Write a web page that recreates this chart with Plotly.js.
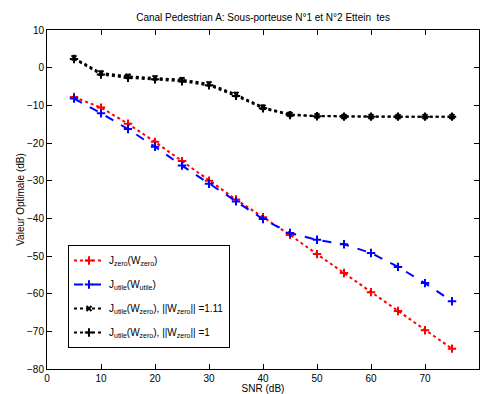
<!DOCTYPE html>
<html>
<head>
<meta charset="utf-8">
<script src="https://cdn.plot.ly/plotly-3.0.1.min.js"></script>
<style>html,body{margin:0;padding:0;background:#fff;}#chart{width:480px;height:394px;}</style>
</head>
<body>
<div id="chart"></div>
<script>
const snr = [5,10,15,20,25,30,35,40,45,50,55,60,65,70,75];
const jZero = [-7.8,-10.6,-14.9,-19.7,-24.8,-30.0,-35.0,-39.7,-44.4,-49.5,-54.5,-59.6,-64.6,-69.7,-74.6];
const jUtile = [-8.2,-12.1,-16.3,-21.0,-26.0,-30.8,-35.5,-40.2,-43.9,-45.7,-46.9,-49.2,-52.9,-57.2,-62.0];
const jUtileZero111 = [2.6,-1.4,-2.3,-2.7,-3.2,-4.3,-7.1,-10.5,-12.4,-12.8,-13.0,-13.0,-13.0,-13.0,-13.0];
const jUtileZero1 = [2.3,-1.8,-2.7,-3.1,-3.6,-4.7,-7.5,-10.8,-12.6,-12.9,-13.0,-13.0,-13.0,-13.0,-13.0];
const names = [
  'J<sub>zero</sub>(W<sub>zero</sub>)',
  'J<sub>utile</sub>(W<sub>utile</sub>)',
  'J<sub>utile</sub>(W<sub>zero</sub>), ||W<sub>zero</sub>|| =1.11',
  'J<sub>utile</sub>(W<sub>zero</sub>), ||W<sub>zero</sub>|| =1'
];
const titleText = 'Canal Pedestrian A: Sous-porteuse N°1 et N°2 Ettein  tes';

const traces = [
  {x: snr, y: jZero, name: names[0], legendgroup: 'a', mode: 'lines+markers',
   line: {color: '#ff0000', dash: 'dot', width: 2},
   marker: {symbol: 'cross-thin', size: 6, line: {color: '#ff0000', width: 2}}},
  {x: snr, y: jUtile, name: names[1], legendgroup: 'b', mode: 'lines+markers',
   line: {color: '#0000ff', dash: 'dash', width: 2},
   marker: {symbol: 'cross-thin', size: 6, line: {color: '#0000ff', width: 2}}},
  {x: snr, y: jUtileZero111, name: names[2], legendgroup: 'c', mode: 'lines+markers',
   line: {color: '#000000', dash: 'dot', width: 2},
   marker: {symbol: 'x-thin', size: 5, line: {color: '#000000', width: 2}}},
  {x: snr, y: jUtileZero1, name: names[3], legendgroup: 'd', mode: 'lines+markers',
   line: {color: '#000000', dash: 'dot', width: 2},
   marker: {symbol: 'cross-thin', size: 6, line: {color: '#000000', width: 2}}}
];

const axisCommon = {
  showgrid: false, zeroline: false, showline: true, linecolor: '#000', linewidth: 1,
  mirror: 'ticks', ticks: 'inside', ticklen: 5, tickcolor: '#000',
  tickfont: {family: 'Liberation Sans, Arial, sans-serif', size: 10, color: '#000'}
};

const layout = {
  width: 480, height: 394,
  margin: {l: 47, r: 1, t: 30, b: 25},
  paper_bgcolor: '#fff', plot_bgcolor: '#fff',
  font: {family: 'Liberation Sans, Arial, sans-serif', size: 10, color: '#000'},
  title: {text: titleText, x: 0.548, xanchor: 'center', y: 0.955, yanchor: 'middle',
          font: {family: 'Liberation Sans, Arial, sans-serif', size: 10, color: '#000'}},
  xaxis: Object.assign({}, axisCommon, {range: [0, 80], tickvals: [0,10,20,30,40,50,60,70,80],
    title: {text: 'SNR (dB)', standoff: 2, font: {size: 10}}}),
  yaxis: Object.assign({}, axisCommon, {range: [-80, 10], tickvals: [-80,-70,-60,-50,-40,-30,-20,-10,0,10],
    title: {text: 'Valeur Optimale (dB)', standoff: 0, font: {size: 10}}}),
  showlegend: true,
  legend: {x: 0.0486, y: 0.366, xanchor: 'left', yanchor: 'top',
    bordercolor: '#000', borderwidth: 1, bgcolor: '#fff',
    font: {family: 'Liberation Sans, Arial, sans-serif', size: 10, color: '#000'},
    tracegroupgap: 5, entrywidth: 175, entrywidthmode: 'pixels'}
};

Plotly.newPlot('chart', traces, layout, {staticPlot: true, displayModeBar: false});
</script>
</body>
</html>
